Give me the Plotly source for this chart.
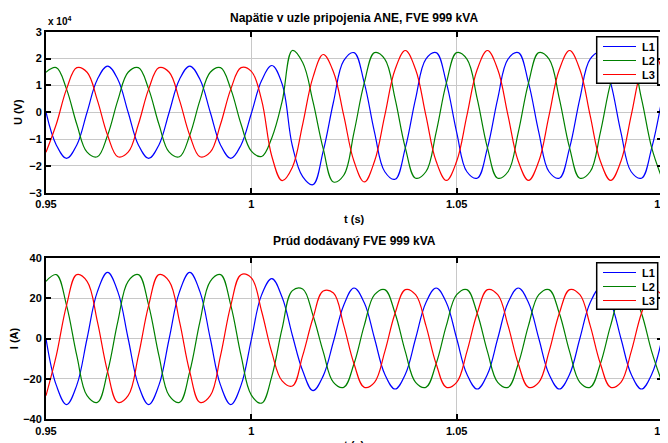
import plotly.graph_objects as go

# sample times (s), 2.5 ms apart, 0.95 .. 1.10
t = [round(0.95 + 0.0025 * k, 4) for k in range(61)]

# Voltage at the connection node (units of 1e4 V)
u_L1 = [0, -1.22, -1.72, -1.22, 0, 1.22, 1.72, 1.22,
        0, -1.22, -1.72, -1.22, 0, 1.22, 1.72, 1.22,
        0, -1.22, -1.72, -1.22, -0.05, 1.18, 1.74, 1.05,
        -1.26, -2.4, -2.7, -1.45, 0.38, 1.92, 2.22, 1.09,
        -0.75, -2.22, -2.5, -1.33, 0.51, 1.98, 2.22, 1.09,
        -0.75, -2.22, -2.46, -1.33, 0.51, 1.98, 2.22, 1.09,
        -0.75, -2.22, -2.46, -1.33, 0.51, 1.98, 2.22, 1.09,
        -0.75, -2.22, -2.46, -1.33, 0.51]
u_L2 = [1.49, 1.66, 0.86, -0.45, -1.49, -1.66, -0.86, 0.45,
        1.49, 1.66, 0.86, -0.45, -1.49, -1.66, -0.86, 0.45,
        1.49, 1.66, 0.86, -0.45, -1.45, -1.65, -0.95, 0.4,
        2.3, 1.85, 0.4, -1.36, -2.6, -2.35, -0.75, 1.09,
        2.22, 1.98, 0.51, -1.33, -2.46, -2.22, -0.75, 1.09,
        2.22, 1.98, 0.51, -1.33, -2.46, -2.22, -0.75, 1.09,
        2.22, 1.98, 0.51, -1.33, -2.46, -2.22, -0.75, 1.09,
        2.22, 1.98, 0.51, -1.33, -2.46]
u_L3 = [-1.49, -0.45, 0.86, 1.66, 1.49, 0.45, -0.86, -1.66,
        -1.49, -0.45, 0.86, 1.66, 1.49, 0.45, -0.86, -1.66,
        -1.49, -0.45, 0.86, 1.66, 1.52, 0.45, -1.65, -2.55,
        -2.05, -0.45, 1.3, 2.15, 1.5, -0.12, -1.83, -2.6,
        -1.83, -0.12, 1.59, 2.3, 1.59, -0.12, -1.83, -2.54,
        -1.83, -0.12, 1.59, 2.3, 1.59, -0.12, -1.83, -2.54,
        -1.83, -0.12, 1.59, 2.3, 1.59, -0.12, -1.83, -2.54,
        -1.83, -0.12, 1.59, 2.3, 1.59]

# Current delivered by the PV plant (A)
i_L1 = [0, -23.1, -32.7, -23.1, 0, 23.1, 32.7, 23.1,
        0, -23.1, -32.7, -23.1, 0, 23.1, 32.7, 23.1,
        0, -23.1, -32.7, -23.1, -0.5, 21.6, 29.6, 20.4,
        1.5, -16, -25.8, -18.5, -1.5, 16.5, 25, 17.7,
        0, -17.7, -25, -17.7, 0, 17.7, 25, 17.7,
        0, -17.7, -25, -17.7, 0, 17.7, 25, 17.7,
        0, -17.7, -25, -17.7, 0, 17.7, 25, 17.7,
        0, -17.7, -25, -17.7, 0]
i_L2 = [28.3, 31.6, 16.4, -8.5, -28.3, -31.6, -16.4, 8.5,
        28.3, 31.6, 16.4, -8.5, -28.3, -31.6, -16.4, 8.5,
        28.3, 31.6, 16.4, -8.5, -28, -32, -18.6, 5,
        23.7, 24.5, 11.5, -6.5, -21.7, -24.2, -12.5, 6.5,
        21.7, 24.2, 12.5, -6.5, -21.7, -24.2, -12.5, 6.5,
        21.7, 24.2, 12.5, -6.5, -21.7, -24.2, -12.5, 6.5,
        21.7, 24.2, 12.5, -6.5, -21.7, -24.2, -12.5, 6.5,
        21.7, 24.2, 12.5, -6.5, -21.7]
i_L3 = [-28.3, -8.5, 16.4, 31.6, 28.3, 8.5, -16.4, -31.6,
        -28.3, -8.5, 16.4, 31.6, 28.3, 8.5, -16.4, -31.6,
        -28.3, -8.5, 16.4, 31.6, 30, 13.5, -7, -21,
        -23.5, -8.5, 10, 23.5, 22.5, 6.5, -12.5, -24.2,
        -21.7, -6.5, 12.5, 24.2, 21.7, 6.5, -12.5, -24.2,
        -21.7, -6.5, 12.5, 24.2, 21.7, 6.5, -12.5, -24.2,
        -21.7, -6.5, 12.5, 24.2, 21.7, 6.5, -12.5, -24.2,
        -21.7, -6.5, 12.5, 24.2, 21.7]

names = ["L1", "L2", "L3"]
colors = ["#0000ff", "#008000", "#ff0000"]
x_ticks = [0.95, 1.0, 1.05, 1.1]
x_ticklabels = ["0.95", "1", "1.05", "1.1"]
u_ticks = [-3, -2, -1, 0, 1, 2, 3]
i_ticks = [-40, -20, 0, 20, 40]

title_u = "Napätie v uzle pripojenia ANE, FVE 999 kVA"
title_i = "Prúd dodávaný FVE 999 kVA"
x_title = "t (s)"

FONT = "Liberation Sans, Arial, sans-serif"
OFF = 8                      # page body margin of the html page
W, H = 668 - OFF, 443 - OFF
ML, MR = 46 - OFF, W - (662 - OFF)
PW = W - ML - MR


def X(px):  # screen px -> paper x
    return (px - OFF - ML) / PW


def Y(py):  # screen px -> paper y
    return 1 - (py - OFF) / H


fig = go.Figure()
for name, col, ys in zip(names, colors, [u_L1, u_L2, u_L3]):
    fig.add_trace(go.Scatter(x=t, y=ys, name=name, mode="lines", showlegend=False,
                             line=dict(color=col, width=1.2, shape="spline", smoothing=1.1),
                             xaxis="x", yaxis="y"))
for name, col, ys in zip(names, colors, [i_L1, i_L2, i_L3]):
    fig.add_trace(go.Scatter(x=t, y=ys, name=name, mode="lines", showlegend=False,
                             line=dict(color=col, width=1.2, shape="spline", smoothing=1.1),
                             xaxis="x2", yaxis="y2"))

tf = dict(family=FONT, size=11, color="black", weight="bold")
common = dict(showline=True, linecolor="black", linewidth=2, mirror="ticks",
              ticks="inside", ticklen=5, tickwidth=1.5, tickcolor="black",
              showgrid=True, gridcolor="#c8c8c8", gridwidth=1, zeroline=False,
              tickfont=tf, automargin=False)

# legend boxes (drawn as layout decorations, one per subplot)
shapes = []
annotations = []
for top in (36.7, 262.7):
    shapes.append(dict(type="rect", xref="paper", yref="paper",
                       x0=X(596.7), x1=X(657.7), y0=Y(top + 46.6), y1=Y(top),
                       line=dict(color="black", width=1.5), fillcolor="white", layer="above"))
    for j, (name, col) in enumerate(zip(names, colors)):
        yy = top + 9.8 + 14 * j
        shapes.append(dict(type="line", xref="paper", yref="paper",
                           x0=X(603), x1=X(636), y0=Y(yy), y1=Y(yy),
                           line=dict(color=col, width=1.2), layer="above"))
        annotations.append(dict(text=name, xref="paper", yref="paper", x=X(639.5), y=Y(yy),
                                xanchor="left", yanchor="middle", showarrow=False,
                                font=dict(family=FONT, size=11, color="black", weight="bold")))

annotations += [
    dict(text=title_u, xref="paper", yref="paper", x=0.5, y=Y(18),
         xanchor="center", yanchor="middle", showarrow=False,
         font=dict(family=FONT, size=12, color="black", weight="bold")),
    dict(text=title_i, xref="paper", yref="paper", x=0.5, y=Y(241),
         xanchor="center", yanchor="middle", showarrow=False,
         font=dict(family=FONT, size=12, color="black", weight="bold")),
    dict(text=x_title, xref="paper", yref="paper", x=0.5, y=Y(219),
         xanchor="center", yanchor="middle", showarrow=False, font=tf),
    dict(text=x_title, xref="paper", yref="paper", x=0.5, y=Y(445),
         xanchor="center", yanchor="middle", showarrow=False, font=tf),
    dict(text="x 10<sup>4</sup>", xref="paper", yref="paper", x=X(46), y=Y(29),
         xanchor="left", yanchor="bottom", showarrow=False,
         font=dict(family=FONT, size=10, color="black", weight="bold")),
]

fig.update_layout(
    width=W, height=H,
    margin=dict(l=ML, r=MR, t=0, b=0, autoexpand=False),
    paper_bgcolor="white", plot_bgcolor="white",
    font=dict(family=FONT, color="black"),
    showlegend=False,
    xaxis=dict(domain=[0, 1], anchor="y", range=[0.95, 1.1], tickvals=x_ticks,
               ticktext=x_ticklabels, ticklabeloverflow="allow", **common),
    yaxis=dict(domain=[Y(192.7), Y(31.7)], anchor="x", range=[-3, 3], tickvals=u_ticks,
               title=dict(text="U (V)", font=tf, standoff=4), **common),
    xaxis2=dict(domain=[0, 1], anchor="y2", range=[0.95, 1.1], tickvals=x_ticks,
                ticktext=x_ticklabels, ticklabeloverflow="allow", **common),
    yaxis2=dict(domain=[Y(419.3), Y(257.7)], anchor="x2", range=[-40, 40], tickvals=i_ticks,
                title=dict(text="I (A)", font=tf, standoff=4), **common),
    shapes=shapes,
    annotations=annotations,
)

fig.write_html("out.html")
